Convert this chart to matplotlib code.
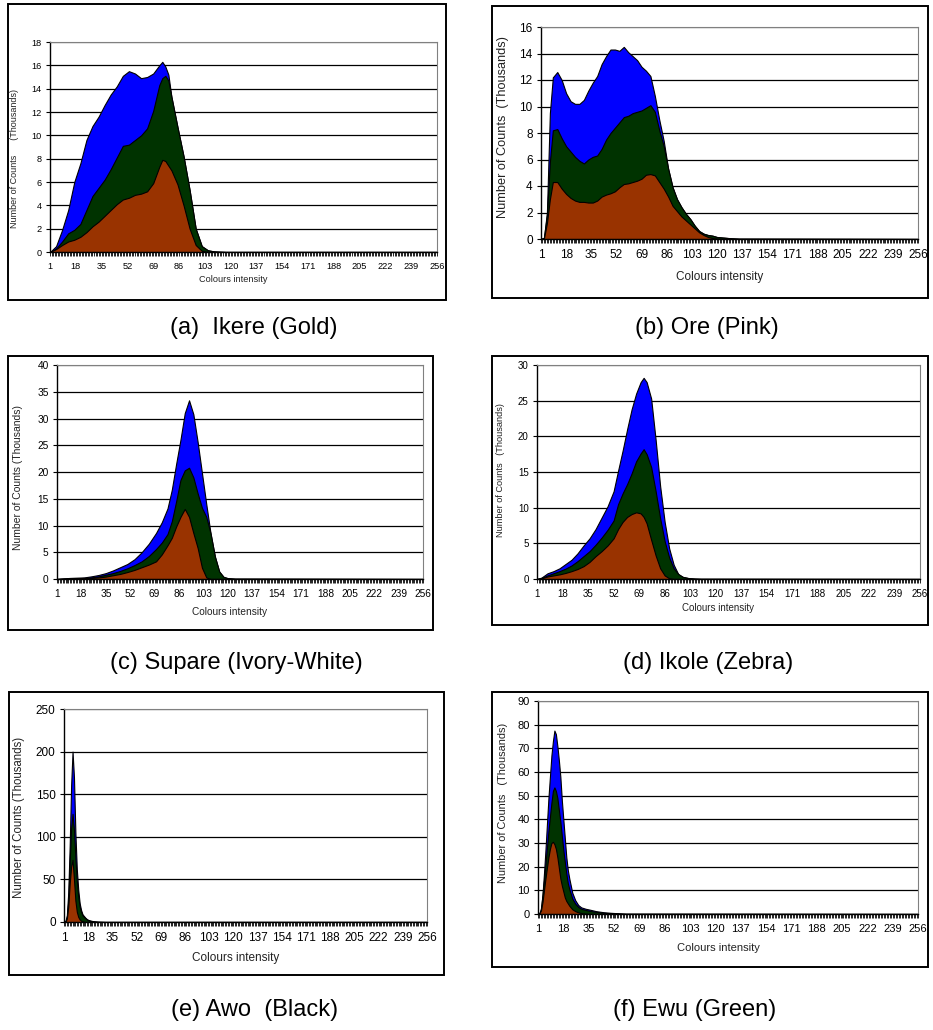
import matplotlib
matplotlib.use("Agg")
import matplotlib.pyplot as plt
from matplotlib.patches import Rectangle

plt.rcParams['font.family'] = ['Liberation Sans', 'DejaVu Sans']

W, H = 933, 1030

# ---------------- data (thousands of counts) ----------------
captions = ["(a)  Ikere (Gold)", "(b) Ore (Pink)", "(c) Supare (Ivory-White)",
            "(d) Ikole (Zebra)", "(e) Awo  (Black)", "(f) Ewu (Green)"]
ylabels = ["Number of Counts      (Thousands)", "Number of Counts  (Thousands)",
           "Number of Counts (Thousands)", "Number of Counts   (Thousands)",
           "Number of Counts (Thousands)", "Number of Counts   (Thousands)"]
xlabel = "Colours intensity"
xtick_labels = [1, 18, 35, 52, 69, 86, 103, 120, 137, 154, 171, 188, 205, 222, 239, 256]

# (a) Ikere
x_a = [1, 5, 9, 13, 17, 21, 25, 29, 33, 37, 41, 45, 49, 53, 57, 61, 65, 69, 73, 75, 77, 79,
       81, 85, 89, 93, 97, 101, 105, 109, 113, 117, 256]
blue_a = [0, 0.5, 1.9, 3.6, 6.0, 7.6, 9.6, 10.8, 11.6, 12.6, 13.5, 14.2, 15.1, 15.5, 15.3, 14.9,
          15.0, 15.3, 16.0, 16.3, 15.9, 15.2, 13.3, 10.7, 8.2, 5.3, 2.0, 0.5, 0.15, 0.05, 0.02, 0, 0]
green_a = [0, 0.3, 0.9, 1.6, 1.9, 2.4, 3.6, 4.8, 5.5, 6.2, 7.1, 8.1, 9.1, 9.2, 9.6, 10.0,
           10.6, 12.1, 14.3, 14.9, 15.1, 14.7, 13.3, 10.7, 8.2, 5.3, 2.0, 0.5, 0.15, 0.05, 0.02, 0, 0]
brown_a = [0, 0.25, 0.6, 0.9, 1.05, 1.3, 1.7, 2.2, 2.6, 3.1, 3.6, 4.1, 4.5, 4.65, 4.9, 5.0,
           5.2, 5.9, 7.3, 7.9, 7.8, 7.4, 7.0, 5.8, 4.0, 2.0, 0.6, 0.1, 0, 0, 0, 0, 0]

# (b) Ore
x_b = [1, 3, 5, 7, 9, 12, 15, 18, 21, 24, 27, 30, 33, 36, 39, 42, 45, 48, 51, 54, 57, 60, 63,
       66, 69, 72, 75, 78, 81, 84, 87, 90, 93, 96, 99, 102, 105, 108, 111, 114, 117, 120, 125,
       130, 135, 256]
blue_b = [0, 0.1, 2.0, 9.5, 12.2, 12.6, 12.0, 11.0, 10.4, 10.2, 10.2, 10.5, 11.2, 11.8, 12.3,
          13.2, 13.8, 14.3, 14.3, 14.2, 14.5, 14.1, 13.8, 13.5, 13.0, 12.7, 12.3, 10.8, 9.0, 7.4,
          5.3, 3.9, 3.0, 2.4, 1.9, 1.5, 1.0, 0.6, 0.4, 0.3, 0.25, 0.15, 0.1, 0.05, 0.02, 0]
green_b = [0, 0.1, 1.8, 5.8, 8.2, 8.3, 7.6, 7.0, 6.6, 6.2, 5.9, 5.7, 6.0, 6.2, 6.3, 6.8, 7.5,
           8.0, 8.4, 8.8, 9.2, 9.3, 9.5, 9.6, 9.7, 9.9, 10.1, 9.6, 8.2, 7.0, 5.3, 3.9, 3.0, 2.4,
           1.9, 1.5, 1.0, 0.6, 0.4, 0.3, 0.25, 0.15, 0.1, 0.05, 0.02, 0]
brown_b = [0, 0.05, 1.2, 3.0, 4.3, 4.3, 3.8, 3.4, 3.1, 2.9, 2.8, 2.8, 2.75, 2.75, 2.9, 3.2, 3.35,
           3.45, 3.6, 3.9, 4.15, 4.2, 4.3, 4.4, 4.55, 4.85, 4.9, 4.8, 4.3, 3.8, 3.2, 2.5, 2.1,
           1.7, 1.4, 1.1, 0.8, 0.5, 0.3, 0.15, 0.07, 0.02, 0, 0, 0, 0]

# (c) Supare
x_c = [1, 5, 10, 15, 20, 25, 30, 35, 40, 45, 50, 55, 60, 65, 70, 74, 78, 81, 84, 87, 90, 93,
       96, 99, 102, 105, 108, 111, 114, 117, 120, 125, 256]
blue_c = [0, 0.1, 0.2, 0.25, 0.3, 0.5, 0.75, 1.1, 1.6, 2.2, 2.8, 3.7, 5.0, 6.6, 8.6, 10.6, 13.2,
          16.7, 21.5, 26.0, 31.0, 33.4, 30.8, 25.6, 19.8, 14.0, 8.5, 4.2, 1.4, 0.4, 0.15, 0.05, 0]
green_c = [0, 0.05, 0.1, 0.15, 0.2, 0.3, 0.5, 0.8, 1.1, 1.5, 2.0, 2.6, 3.3, 4.3, 5.6, 6.8, 8.4,
           10.8, 14.5, 18.5, 20.3, 20.8, 19.0, 16.0, 13.3, 11.6, 8.5, 4.2, 1.4, 0.4, 0.15, 0.05, 0]
brown_c = [0, 0.03, 0.05, 0.1, 0.15, 0.2, 0.3, 0.45, 0.7, 0.95, 1.3, 1.7, 2.2, 2.7, 3.3, 4.6,
           6.3, 7.7, 9.8, 11.6, 13.1, 11.6, 8.6, 5.8, 2.1, 0.3, 0, 0, 0, 0, 0, 0, 0]

# (d) Ikole
x_d = [1, 4, 8, 12, 16, 20, 24, 28, 32, 36, 40, 44, 48, 52, 55, 58, 61, 64, 67, 70, 72, 74, 77,
       80, 83, 86, 89, 92, 95, 98, 102, 106, 110, 256]
blue_d = [0, 0.2, 0.8, 1.1, 1.5, 2.1, 2.7, 3.6, 4.7, 5.7, 7.0, 8.6, 10.2, 12.3, 15.2, 18.0, 21.0,
          23.8, 26.0, 27.6, 28.2, 27.6, 25.3, 19.5, 13.0, 8.0, 4.3, 2.0, 0.7, 0.3, 0.12, 0.05, 0.02, 0]
green_d = [0, 0.15, 0.5, 0.8, 1.1, 1.45, 1.9, 2.5, 3.2, 3.9, 4.8, 5.8, 6.9, 8.2, 10.5, 12.0, 13.3,
           14.8, 16.5, 17.6, 18.2, 17.5, 15.7, 12.3, 8.5, 5.3, 3.0, 1.5, 0.7, 0.3, 0.12, 0.05, 0.02, 0]
brown_d = [0, 0.1, 0.35, 0.5, 0.65, 0.85, 1.1, 1.4, 1.8, 2.4, 3.2, 3.9, 4.7, 5.7, 7.0, 8.0, 8.7,
           9.1, 9.35, 9.2, 8.7, 7.8, 5.5, 3.3, 1.5, 0.5, 0.1, 0, 0, 0, 0, 0, 0, 0]

# (e) Awo
x_e = [1, 2, 3, 4, 5, 6, 7, 8, 9, 10, 11, 12, 13, 14, 15, 16, 17, 18, 19, 20, 22, 25, 30, 256]
blue_e = [0, 1, 8, 35, 90, 160, 200, 170, 105, 62, 38, 22, 14, 9, 7, 5, 3.5, 2.5, 2, 1.5, 0.8,
          0.3, 0, 0]
green_e = [0, 0.5, 5, 25, 70, 110, 127, 108, 75, 48, 30, 18, 12, 8, 6, 4.5, 3, 2, 1.5, 1.2, 0.6,
           0.2, 0, 0]
brown_e = [0, 0.3, 4, 18, 45, 65, 73, 50, 25, 12, 6, 3, 1.5, 0.8, 0.3, 0, 0, 0, 0, 0, 0, 0, 0, 0]

# (f) Ewu
x_f = [1, 2, 3, 4, 5, 6, 7, 8, 9, 10, 11, 12, 13, 14, 15, 16, 17, 18, 19, 20, 21, 22, 24, 26,
       28, 30, 33, 36, 40, 45, 50, 55, 60, 256]
blue_f = [0, 0.5, 1.7, 8, 17, 27, 38, 49, 58, 67, 73, 77.5, 76, 71, 65, 58, 48, 40, 32, 24, 18.6,
          15, 9, 5.8, 3.8, 2.8, 2.2, 1.8, 1.2, 0.75, 0.5, 0.3, 0.1, 0]
green_f = [0, 0.3, 2.5, 8, 14, 21, 28, 35, 41, 47, 52, 53.5, 52, 49, 44, 39, 33, 27, 22, 17, 13,
           10.5, 6.5, 4.3, 3.0, 2.2, 1.7, 1.3, 0.9, 0.5, 0.3, 0.15, 0.05, 0]
brown_f = [0, 0.3, 1.5, 5, 10, 15, 19.5, 24, 27.5, 30, 30.5, 29.5, 27.5, 24, 19.5, 15, 12, 9.5, 7,
           5.5, 4.5, 3.5, 2, 1.2, 0.7, 0.4, 0.1, 0, 0, 0, 0, 0, 0, 0]

y_max = [18, 16, 40, 30, 250, 90]
y_step = [2, 2, 5, 5, 50, 10]

# ---------------- layout (pixels) ----------------
panels = [
    dict(x=x_a, b=blue_a, g=green_a, r=brown_a, box=(8, 4, 446, 300), ax=(50, 42, 437, 252),
         fs=6.6, ylfs=6.5, ylx=15, yly=158, xly=279, capx=254, capy=328),
    dict(x=x_b, b=blue_b, g=green_b, r=brown_b, box=(492, 6, 928, 298), ax=(541, 27, 918, 239),
         fs=8.5, ylfs=9.2, ylx=503, yly=127, xly=277, capx=707, capy=328),
    dict(x=x_c, b=blue_c, g=green_c, r=brown_c, box=(8, 356, 433, 630), ax=(57, 365, 423, 579),
         fs=7.3, ylfs=7.5, ylx=18, yly=477, xly=612, capx=236, capy=663),
    dict(x=x_d, b=blue_d, g=green_d, r=brown_d, box=(492, 356, 928, 625), ax=(537, 365, 920, 579),
         fs=7.0, ylfs=6.6, ylx=501, yly=470, xly=608, capx=708, capy=663),
    dict(x=x_e, b=blue_e, g=green_e, r=brown_e, box=(9, 692, 444, 975), ax=(64, 709, 427, 922),
         fs=8.5, ylfs=8.3, ylx=19, yly=817, xly=958, capx=255, capy=1010),
    dict(x=x_f, b=blue_f, g=green_f, r=brown_f, box=(492, 692, 928, 967), ax=(538, 701, 918, 914),
         fs=8.0, ylfs=7.9, ylx=503, yly=803, xly=948, capx=695, capy=1010),
]

fig = plt.figure(figsize=(W / 100, H / 100), dpi=100)
fig.patch.set_facecolor('white')


def fx(px):
    return px / W


def fy(py):
    return 1 - py / H


for i, p in enumerate(panels):
    bl, bt, br, bb = p['box']
    fig.patches.append(Rectangle((fx(bl), fy(bb)), fx(br - bl), (bb - bt) / H,
                                 transform=fig.transFigure, fill=False,
                                 edgecolor='black', linewidth=1.4, zorder=0))
    al, at, ar, ab = p['ax']
    ax = fig.add_axes([fx(al), fy(ab), fx(ar - al), (ab - at) / H])
    ymax = y_max[i]
    step = y_step[i]
    yt = list(range(0, ymax + 1, step))
    for v in yt[1:-1]:
        ax.axhline(v, color='black', linewidth=0.9, zorder=1)
    ax.axhline(ymax, color='#808080', linewidth=1.0, zorder=1)
    for vals, col in ((p['b'], '#0000FF'), (p['g'], '#003300'), (p['r'], '#993300')):
        ax.fill_between(p['x'], 0, vals, facecolor=col, edgecolor='black',
                        linewidth=0.8, zorder=2)
    ax.set_xlim(1, 256)
    ax.set_ylim(0, ymax)
    ax.set_yticks(yt)
    ax.set_xticks(xtick_labels)
    ax.set_xticklabels([str(t) for t in xtick_labels])
    ax.set_xticks(range(1, 257), minor=True)
    ax.tick_params(axis='x', which='both', direction='out', length=3, width=0.6,
                   labelsize=p['fs'], pad=4)
    ax.tick_params(axis='y', which='major', direction='out', length=3, width=0.8,
                   labelsize=p['fs'], pad=3)
    for s in ('top', 'right'):
        ax.spines[s].set_color('#808080')
    for s in ('left', 'bottom'):
        ax.spines[s].set_color('black')
        ax.spines[s].set_linewidth(1.0)
    ax.spines['bottom'].set_zorder(5)
    ax.set_facecolor('white')
    fig.text(fx(p['ylx']), fy(p['yly']), ylabels[i], rotation=90,
             ha='center', va='center', fontsize=p['ylfs'], color='#222222')
    fig.text(fx((al + ar) / 2 - 10), fy(p['xly']), xlabel, ha='center', va='center',
             fontsize=p['fs'], color='#222222')
    fig.text(fx(p['capx']), fy(p['capy']), captions[i], ha='center', va='center',
             fontsize=17, color='black')

fig.savefig('out.png', dpi=100, facecolor='white')
